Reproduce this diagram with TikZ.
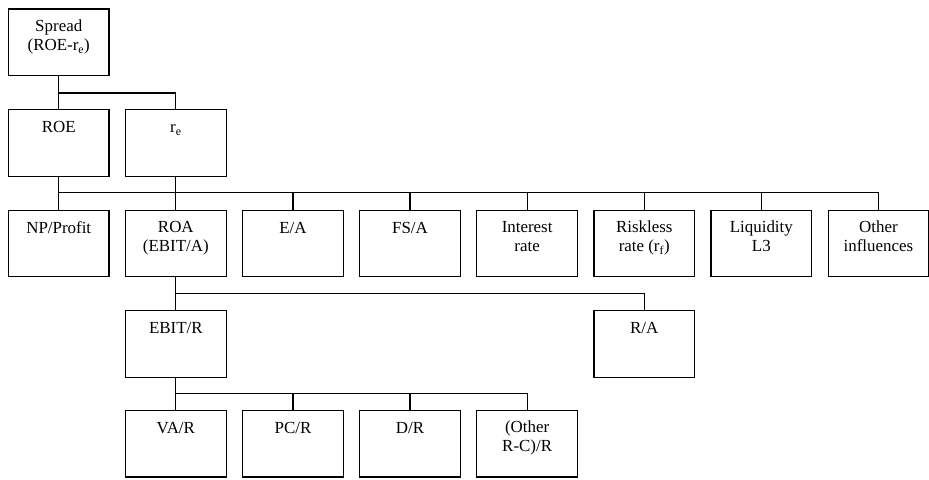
\documentclass[tikz,border=0pt]{standalone}
\usepackage{fontspec}
\setmainfont{Liberation Serif}

\begin{document}
\begin{tikzpicture}[x=1pt, y=-1pt, line width=1.2pt,
  every node/.style={font=\fontsize{17}{19}\selectfont},
  box/.style={draw, minimum width=101pt, minimum height=67pt, inner sep=0pt},
  lbl/.style={anchor=north, yshift=-11pt, align=center, inner sep=0pt,
    execute at begin node=\rule{0pt}{12pt}}]
  \useasboundingbox (0,0) rectangle (933,482);

  % Spread and its two parts
  \node[box, label={[lbl]north:Spread\\(ROE-r\textsubscript{e})}] (spread) at (59,42.5) {};
  \node[box, label={[lbl]north:ROE}] (roe) at (59,143.5) {};
  \node[box, label={[lbl]north:r\textsubscript{e}}] (re) at (176.6,143.5) {};

  % Influences on ROE and r_e
  \node[box, label={[lbl]north:NP/Profit}] (np) at (59,244.5) {};
  \node[box, label={[lbl]north:ROA\\(EBIT/A)}] (roa) at (176.6,244.5) {};
  \node[box, label={[lbl]north:E/A}] (ea) at (294.2,244.5) {};
  \node[box, label={[lbl]north:FS/A}] (fsa) at (411.8,244.5) {};
  \node[box, label={[lbl]north:Interest\\rate}] (ir) at (529.4,244.5) {};
  \node[box, label={[lbl]north:Riskless\\rate (r\textsubscript{f})}] (rf) at (647,244.5) {};
  \node[box, label={[lbl]north:Liquidity\\L3}] (liq) at (764.6,244.5) {};
  \node[box, label={[lbl]north:Other\\influences}] (other) at (882.2,244.5) {};

  % ROA split
  \node[box, label={[lbl]north:EBIT/R}] (ebitr) at (176.6,345.5) {};
  \node[box, label={[lbl]north:R/A}] (ra) at (647,345.5) {};

  % EBIT/R split
  \node[box, label={[lbl]north:VA/R}] (var) at (176.6,445.5) {};
  \node[box, label={[lbl]north:PC/R}] (pcr) at (294.2,445.5) {};
  \node[box, label={[lbl]north:D/R}] (dr) at (411.8,445.5) {};
  \node[box, label={[lbl]north:(Other\\R-C)/R}] (orc) at (529.4,445.5) {};

  % Connectors
  \draw (spread.south) -- (roe.north);
  \draw (roe.north) ++(0,-16) -| (re.north);

  \draw (roe.south) -- (np.north);
  \draw (re.south) -- (roa.north);
  \draw (np.north) ++(0,-17) -| (other.north);
  \draw (np.north) ++(0,-17) -| (ea.north);
  \draw (np.north) ++(0,-17) -| (fsa.north);
  \draw (np.north) ++(0,-17) -| (ir.north);
  \draw (np.north) ++(0,-17) -| (rf.north);
  \draw (np.north) ++(0,-17) -| (liq.north);

  \draw (roa.south) -- (ebitr.north);
  \draw (ebitr.north) ++(0,-17) -| (ra.north);

  \draw (ebitr.south) -- (var.north);
  \draw (var.north) ++(0,-16) -| (pcr.north);
  \draw (var.north) ++(0,-16) -| (dr.north);
  \draw (var.north) ++(0,-16) -| (orc.north);
\end{tikzpicture}
\end{document}
